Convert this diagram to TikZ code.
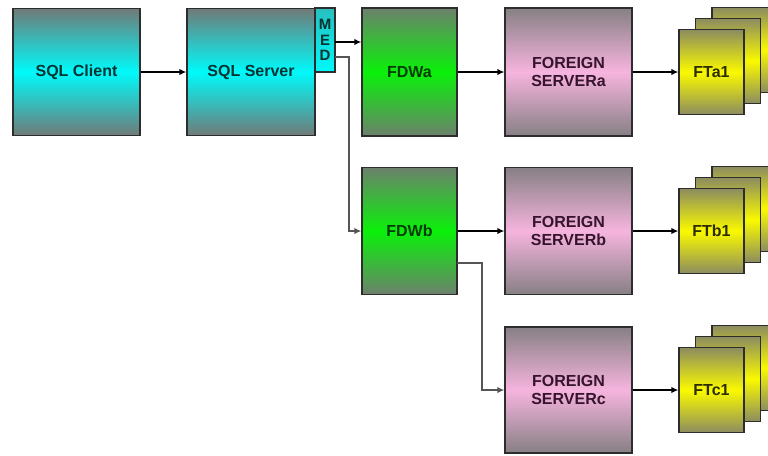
\documentclass[tikz,border=0pt]{standalone}
\usepackage{fontspec}
\setmainfont{Liberation Sans}
\usetikzlibrary{arrows.meta}
\definecolor{cyanmid}{RGB}{0,250,250}
\definecolor{cyanedge}{RGB}{112,122,120}
\definecolor{medtop}{RGB}{40,190,190}
\definecolor{greenmid}{RGB}{10,240,10}
\definecolor{greenedge}{RGB}{108,128,108}
\definecolor{pinkmid}{RGB}{246,180,222}
\definecolor{pinkedge}{RGB}{134,128,132}
\definecolor{yelmid}{RGB}{250,250,0}
\definecolor{yeledge}{RGB}{140,140,96}
\definecolor{bordercol}{RGB}{45,45,45}
\definecolor{cyantext}{RGB}{5,50,50}
\definecolor{greentext}{RGB}{5,60,5}
\definecolor{pinktext}{RGB}{55,20,45}
\definecolor{yeltext}{RGB}{45,45,0}
\definecolor{linegray}{RGB}{85,85,85}
\tikzset{
  box/.style={draw=bordercol, line width=1.3pt, inner sep=0pt, align=center,
    font=\bfseries\fontsize{16}{17.5}\selectfont},
  cyanbox/.style={box, top color=cyanedge, bottom color=cyanedge, middle color=cyanmid, text=cyantext},
  medbox/.style={box, top color=medtop, bottom color=cyanmid, text=cyantext},
  greenbox/.style={box, top color=greenedge, bottom color=greenedge, middle color=greenmid, text=greentext},
  pinkbox/.style={box, top color=pinkedge, bottom color=pinkedge, middle color=pinkmid, text=pinktext},
  yelbox/.style={box, top color=yeledge, bottom color=yeledge, middle color=yelmid, text=yeltext,
    minimum width=65pt, minimum height=85pt},
  conn/.style={line width=1.5pt, -{Latex[length=7pt,width=6.5pt]}},
}
\begin{document}
\begin{tikzpicture}[x=1pt,y=-1pt]
\useasboundingbox (0,0) rectangle (768,455);
\clip (0,0) rectangle (768,455);
% main boxes
\node[cyanbox, minimum width=127pt, minimum height=127pt] (client) at (76.5,72) {SQL Client};
\node[cyanbox, minimum width=128pt, minimum height=127pt] (server) at (251,72) {SQL Server};
\node[medbox, minimum width=20pt, minimum height=64pt, font=\bfseries\fontsize{15}{15.5}\selectfont] (med) at (325,40) {M\\E\\D};
\node[greenbox, minimum width=95pt, minimum height=128pt] (fdwa) at (409.5,72) {FDWa};
\node[greenbox, minimum width=95pt, minimum height=127pt] (fdwb) at (409.5,231) {FDWb};
\node[pinkbox, minimum width=127pt, minimum height=128pt] (fsa) at (568.5,72) {FOREIGN\\SERVERa};
\node[pinkbox, minimum width=127pt, minimum height=127pt] (fsb) at (568.5,231) {FOREIGN\\SERVERb};
\node[pinkbox, minimum width=127pt, minimum height=126pt] (fsc) at (568.5,390) {FOREIGN\\SERVERc};
% foreign table stacks
\node[yelbox] (fta3) at (744.5,50) {};
\node[yelbox] (fta2) at (728,61) {};
\node[yelbox] (fta1) at (711.5,72) {FTa1};
\node[yelbox] (ftb3) at (744.5,209) {};
\node[yelbox] (ftb2) at (728,220) {};
\node[yelbox] (ftb1) at (711.5,231) {FTb1};
\node[yelbox] (ftc3) at (744.5,368) {};
\node[yelbox] (ftc2) at (728,379) {};
\node[yelbox] (ftc1) at (711.5,390) {FTc1};
% waypoints
\coordinate (medE) at (335,42);
\coordinate (medD) at (335,57);
\coordinate (fdwbLow) at (457,263);
% connectors
\draw[conn] (client.east) -- (server.west);
\draw[conn] (medE) -- (medE -| fdwa.west);
\draw[conn, draw=linegray] (medD) -- (349,57) |- (fdwb.west);
\draw[conn] (fdwa.east) -- (fsa.west);
\draw[conn] (fdwb.east) -- (fsb.west);
\draw[conn, draw=linegray] (fdwbLow) -- (482,263) |- (fsc.west);
\draw[conn] (fsa.east) -- (fta1.west);
\draw[conn] (fsb.east) -- (ftb1.west);
\draw[conn] (fsc.east) -- (ftc1.west);
\end{tikzpicture}
\end{document}
